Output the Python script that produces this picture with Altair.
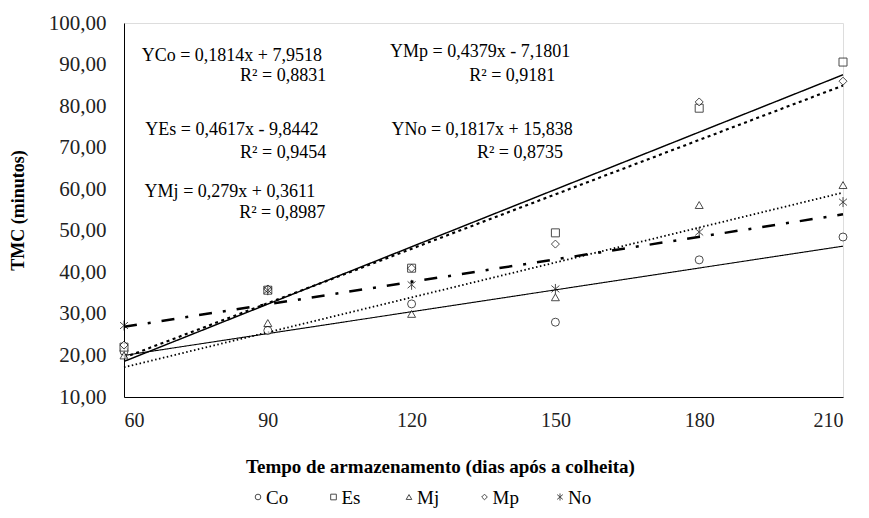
import altair as alt
import pandas as pd

# ---- data ----
days = [60, 90, 120, 150, 180, 210]
series_names = ["Co", "Es", "Mj", "Mp", "No"]
co = [21.0, 26.0, 32.4, 28.0, 43.0, 48.5]
es = [22.0, 35.7, 41.0, 49.5, 79.5, 90.6]
mj = [20.0, 27.8, 30.0, 34.0, 56.2, 61.0]
mp = [22.5, 36.0, 41.0, 46.8, 81.0, 86.0]
no = [27.2, 35.7, 37.0, 36.0, 49.7, 56.9]

eq_texts = [
    "YCo = 0,1814x + 7,9518", "R² = 0,8831",
    "YMp = 0,4379x - 7,1801", "R² = 0,9181",
    "YEs = 0,4617x - 9,8442", "R² = 0,9454",
    "YNo = 0,1817x + 15,838", "R² = 0,8735",
    "YMj = 0,279x + 0,3611", "R² = 0,8987",
]
eq_x = [82.5, 93.2, 134.3, 141.0, 82.5, 93.2, 134.7, 142.6, 82.1, 93.0]
eq_y = [92.0, 87.2, 93.0, 87.2, 74.2, 68.7, 74.2, 68.7, 59.3, 54.3]

x_ticks = [60, 90, 120, 150, 180, 210]
y_ticks = [10, 20, 30, 40, 50, 60, 70, 80, 90, 100]

rows = []
for name, vals in zip(series_names, [co, es, mj, mp, no]):
    for d, v in zip(days, vals):
        rows.append({"series": name, "x": d, "y": v})
df = pd.DataFrame(rows)
ann = pd.DataFrame({"text": eq_texts, "x": eq_x, "y": eq_y})
leg = pd.DataFrame({"series": series_names})

FONT = "Liberation Serif"
asterisk = "M0,-1.25L0,1.25M-1,-0.85L1,0.85M-1,0.85L1,-0.85"

xscale = alt.Scale(domain=[60, 210], nice=False, zero=False)
yscale = alt.Scale(domain=[10, 100], nice=False, zero=False)
shape_scale = alt.Scale(domain=series_names,
                        range=["circle", "square", "triangle-up", "diamond", asterisk])

xaxis = alt.Axis(
    title="Tempo de armazenamento (dias após a colheita)",
    values=x_ticks, grid=False, ticks=False, domainColor="black",
    labelFont=FONT, labelFontSize=20, labelColor="#222", labelPadding=13,
    titleFont=FONT, titleFontSize=19, titleFontWeight="bold", titleColor="black",
    titlePadding=27, titleX=316, titleAlign="center", titleAnchor="start",
)
yaxis = alt.Axis(
    title="TMC (minutos)",
    values=y_ticks, grid=False, ticks=False, domainColor="black",
    labelFont=FONT, labelFontSize=21, labelColor="#222", labelPadding=18,
    labelExpr="replace(format(datum.value, '.2f'), '.', ',')",
    titleFont=FONT, titleFontSize=18, titleFontWeight="bold", titleColor="black",
    titlePadding=21,
)

base = alt.Chart(df)

lines = base.transform_regression(
    "x", "y", groupby=["series"], method="linear"
).transform_calculate(grp="datum.series").mark_line(color="black").encode(
    x=alt.X("x:Q", scale=xscale, axis=xaxis),
    y=alt.Y("y:Q", scale=yscale, axis=yaxis),
    detail="grp:N",
    strokeDash=alt.StrokeDash(
        "grp:N",
        scale=alt.Scale(domain=series_names,
                        range=[[1, 0], [1, 0], [1.5, 2.5], [3, 3.5], [13, 11, 3, 11]]),
        legend=None,
    ),
    strokeWidth=alt.StrokeWidth(
        "grp:N",
        scale=alt.Scale(domain=series_names, range=[1.1, 2.5, 1.6, 3.2, 3.0]),
        legend=None,
    ),
)

points = base.mark_point(stroke="black", strokeWidth=1, size=64).encode(
    x=alt.X("x:Q", scale=xscale),
    y=alt.Y("y:Q", scale=yscale),
    fill=alt.value("white"),
    shape=alt.Shape("series:N", scale=shape_scale, legend=None),
)

texts = alt.Chart(ann).mark_text(font=FONT, fontSize=18, color="black").encode(
    x=alt.X("x:Q", scale=xscale),
    y=alt.Y("y:Q", scale=yscale),
    text="text:N",
)

main = alt.layer(lines, points, texts)

# legend row below the x-axis title (series order from series_names)
leg_x = alt.X("series:N", sort=series_names,
              scale=alt.Scale(type="point", domain=series_names, range=[134, 436],
                              padding=0),
              axis=None)
leg_sym = alt.Chart(leg).mark_point(stroke="black", strokeWidth=1, size=32).encode(
    x=leg_x, y=alt.value(474), fill=alt.value("white"),
    shape=alt.Shape("series:N", scale=shape_scale, legend=None),
)
leg_txt = alt.Chart(leg).mark_text(font=FONT, fontSize=19, color="black",
                                   align="left", baseline="middle", dx=8, dy=1).encode(
    x=leg_x, y=alt.value(474), text="series:N",
)
legend = alt.layer(leg_sym, leg_txt)

chart = alt.layer(main, legend).resolve_scale(
    x="independent", y="independent"
).properties(
    width=719, height=374,
    autosize=alt.AutoSizeParams(type="none"),
    padding={"left": 116, "top": 15, "right": 10, "bottom": 112},
).configure_view(stroke=None).configure(background="white")

chart.save("out.html", embed_options={"renderer": "svg", "actions": False})
